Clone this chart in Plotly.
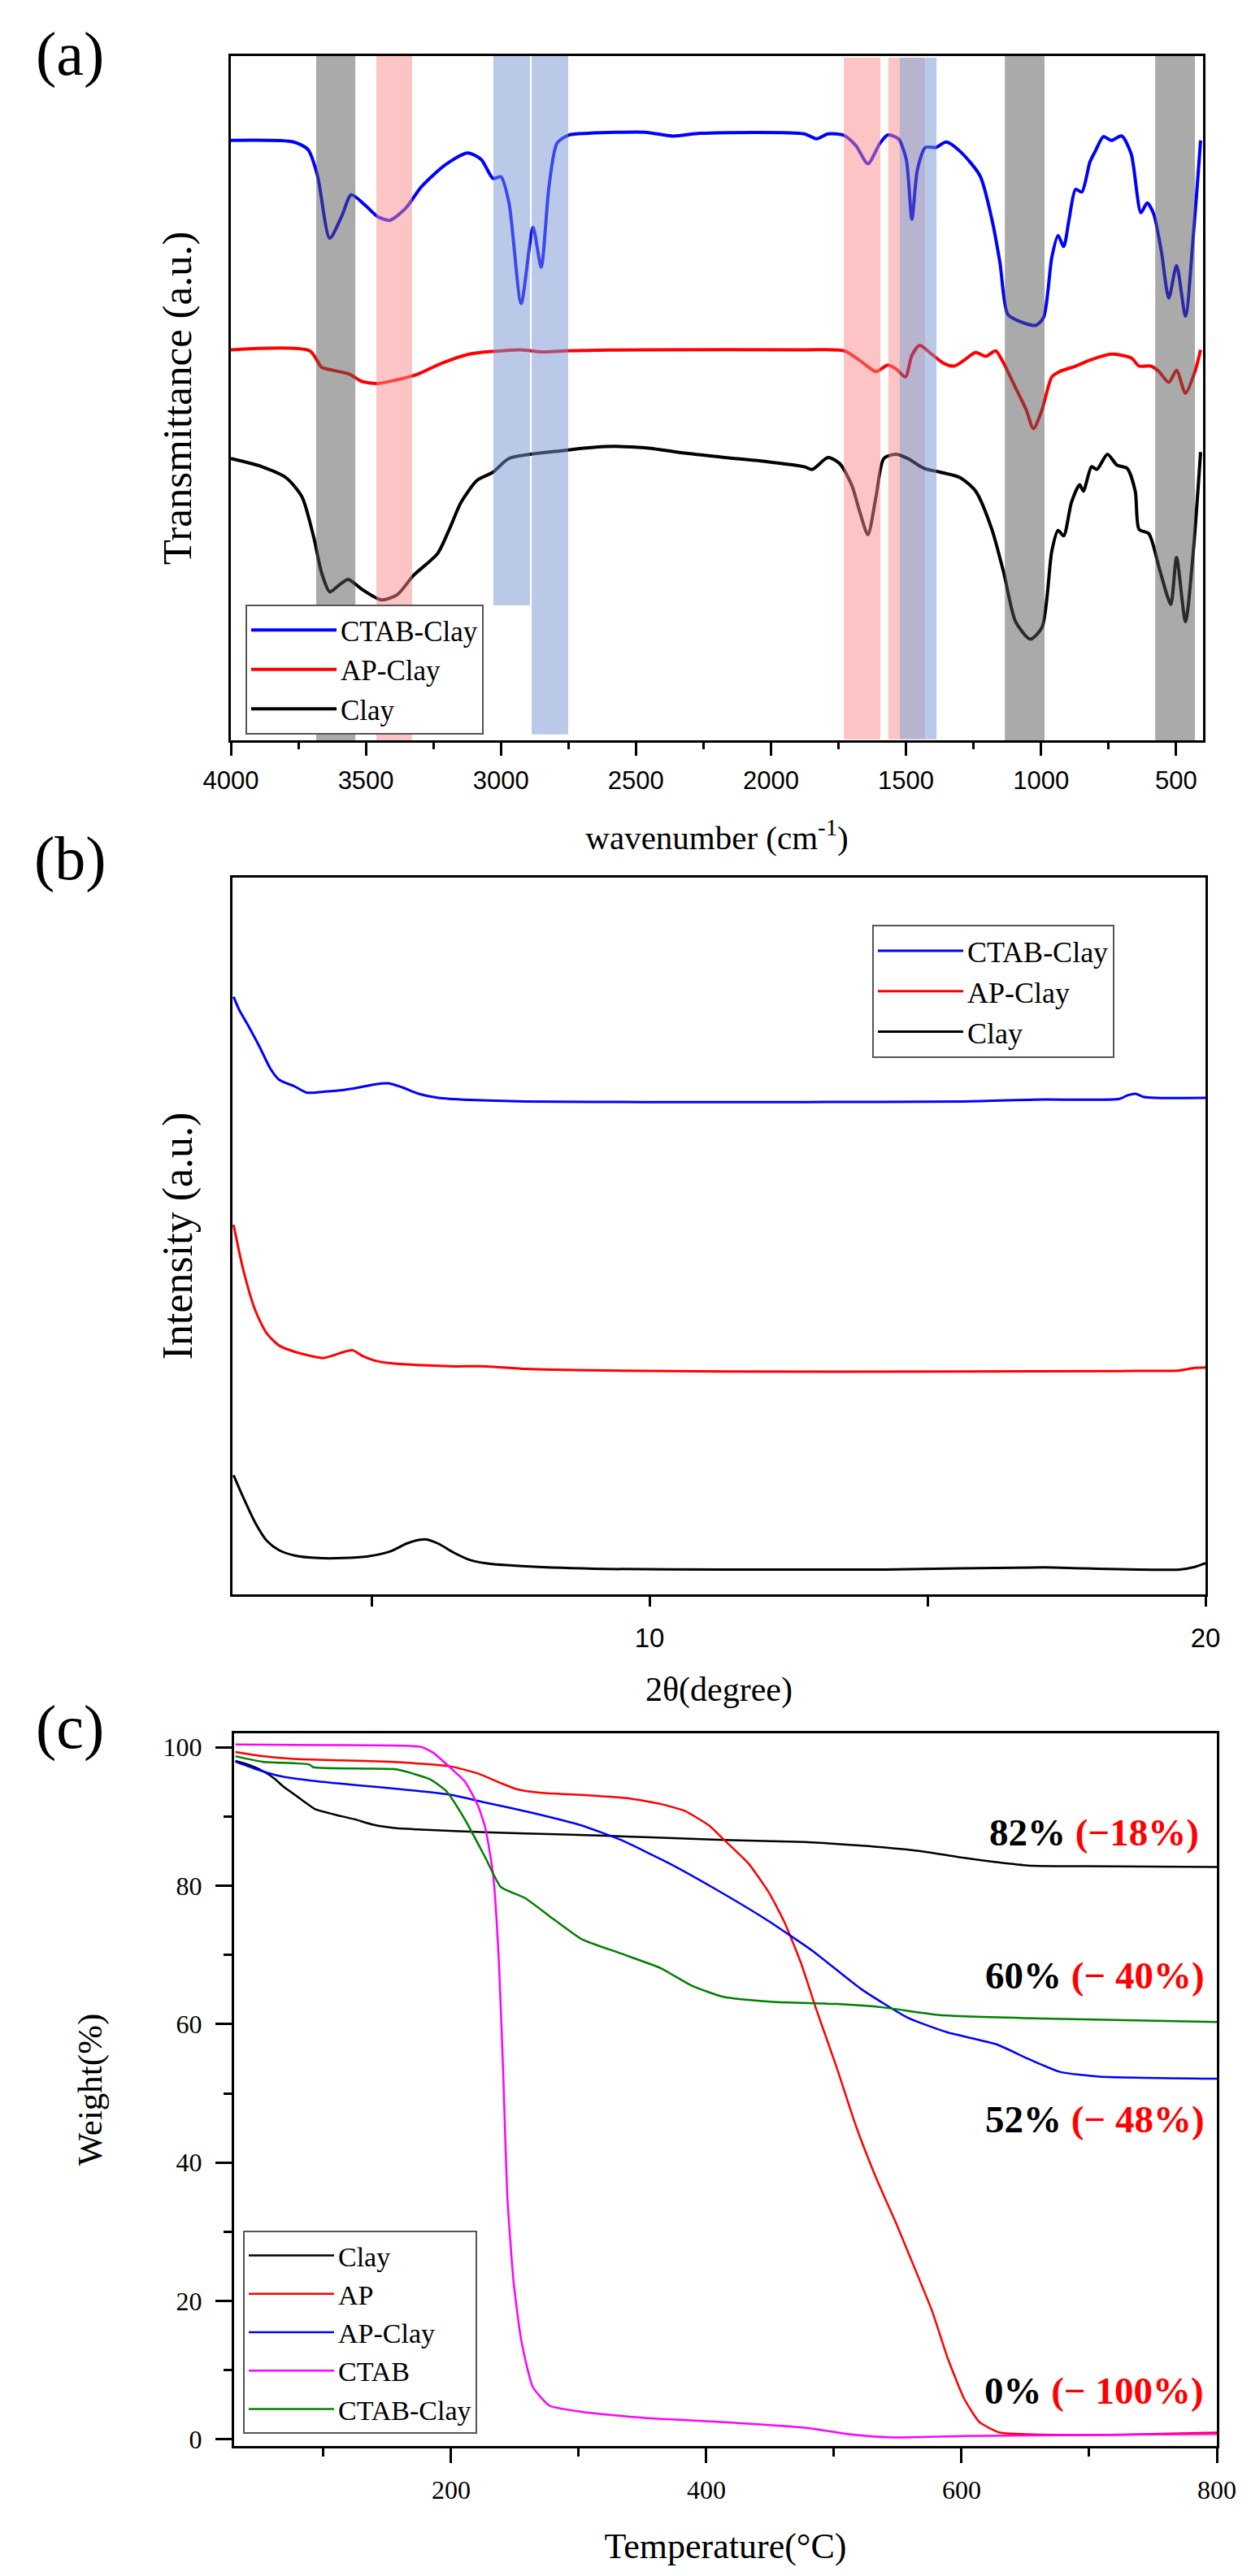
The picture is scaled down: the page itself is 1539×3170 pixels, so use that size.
import plotly.graph_objects as go

# ---------------- Panel (a): FTIR ----------------
ftir_ctab_w = [4000,3767,3714,3679,3634,3590,3554,3501,3457,3412,3353,3294,3206,3123,3073,3029,3000,2970,2925,2881,2851,2822,2792,2748,2674,2467,2364,2261,1877,1832,1788,1729,1685,1641,1596,1567,1528,1499,1478,1458,1428,1389,1351,1300,1226,1182,1152,1123,1078,1019,990,960,937,916,896,872,849,819,799,769,740,701,666,630,607,583,554,527,498,465,436,409]
ftir_ctab_t = [110.3,110.0,108.6,103.8,92.3,96.3,100.3,98.3,96.3,95.6,97.8,101.8,105.8,108.0,106.8,103.3,103.6,98.8,80.3,94.3,87.0,101.8,109.8,111.3,111.6,111.8,111.1,111.6,111.5,110.6,111.5,111.2,109.3,106.0,109.8,111.3,110.6,106.8,95.8,104.8,109.0,109.0,110.0,108.3,103.8,95.8,87.8,78.3,77.0,76.3,77.8,88.8,92.8,90.8,95.8,101.3,100.8,106.3,108.3,111.0,110.3,111.1,107.8,97.0,98.8,96.8,89.8,81.3,87.3,78.0,92.8,110.3]

ftir_ap_w = [4000,3708,3664,3619,3560,3516,3457,3383,3309,3220,3117,3029,2925,2851,2763,2467,1877,1729,1670,1611,1567,1537,1502,1478,1449,1405,1360,1322,1287,1242,1204,1168,1138,1094,1055,1028,996,960,931,872,813,740,666,637,593,563,527,498,465,430,409]
ftir_ap_t = [71.8,71.6,68.6,68.0,67.3,66.0,65.6,66.3,67.3,69.3,71.0,71.5,71.8,71.4,71.6,71.8,71.8,71.6,69.8,67.8,69.0,68.3,66.8,70.8,72.6,71.0,69.3,68.8,69.8,71.3,70.6,71.6,69.3,64.8,60.8,57.3,60.8,66.8,67.8,68.8,70.0,71.0,70.3,68.8,68.8,67.8,65.8,68.0,63.8,67.8,71.8]

ftir_clay_w = [4000,3885,3796,3737,3693,3664,3634,3605,3566,3516,3442,3383,3324,3235,3191,3147,3088,3029,2970,2763,2615,2467,2320,2172,2024,1877,1847,1788,1744,1700,1670,1641,1611,1582,1537,1493,1433,1374,1300,1242,1182,1138,1094,1040,996,960,937,916,887,857,843,813,793,754,719,681,651,637,601,563,534,519,498,465,436,409]
ftir_clay_t = [51.8,50.3,48.3,44.8,37.3,30.8,27.3,28.3,29.6,27.8,25.8,26.8,30.3,34.3,38.8,43.8,47.8,49.3,51.8,53.3,54.0,53.8,52.8,52.0,51.3,50.3,49.8,52.0,50.8,46.8,41.8,37.8,44.8,51.8,52.6,51.8,50.0,49.3,48.3,45.8,38.8,30.8,21.8,18.6,20.8,34.8,38.6,37.6,43.8,47.0,45.8,50.3,49.8,52.6,50.6,50.0,45.8,38.8,38.0,31.8,26.8,25.0,33.6,21.8,34.8,53.0]

# highlighted bands (wavenumber from, to, y-bottom, y-top, kind)
band_from = [3684, 3461, 3028, 2886, 1730, 1565, 1523, 1429, 1134, 577]
band_to   = [3539, 3329, 2892, 2751, 1595, 1523, 1429, 1387, 987, 430]
band_ylo  = [0, 0, 24.8, 1.1, 0.2, 0.2, 0.2, 0.2, 0, 0]
band_yhi  = [125.8, 125.8, 126.2, 126.2, 125.5, 125.5, 125.5, 125.5, 125.8, 125.8]
band_kind = ["gray", "pink", "blue", "blue", "pink", "pink", "purple", "blue", "gray", "gray"]

# ---------------- Panel (b): XRD ----------------
xrd_ctab_x = [2.52,2.62,2.77,2.98,3.19,3.34,3.62,3.84,4.13,4.48,4.77,5.06,5.32,5.56,5.85,6.20,6.78,7.78,9.93,12.79,15.66,17.09,18.45,18.60,18.74,18.88,19.10,20.0]
xrd_ctab_y = [115.3,112.8,110.0,105.8,101.3,99.3,98.0,96.8,97.0,97.3,97.8,98.4,98.6,97.8,96.6,95.8,95.4,95.1,95.0,95.0,95.1,95.5,95.6,96.3,96.6,96.0,95.8,95.8]

xrd_ap_x = [2.52,2.69,2.91,3.12,3.34,3.62,3.91,4.13,4.34,4.51,4.66,4.84,5.06,5.34,5.92,6.49,7.06,7.78,9.21,11.36,15.66,18.52,19.53,19.81,20.0]
xrd_ap_y = [71.3,62.8,54.8,50.3,48.0,46.8,46.0,45.6,46.2,46.8,47.1,46.0,45.1,44.6,44.2,44.0,44.0,43.5,43.2,43.0,43.0,43.1,43.2,43.7,43.8]

xrd_clay_x = [2.52,2.69,2.91,3.12,3.34,3.62,4.05,4.48,4.91,5.34,5.63,5.85,5.99,6.20,6.49,6.78,7.06,7.78,9.21,11.36,14.23,17.09,17.81,19.53,19.81,20.0]
xrd_clay_y = [23.0,18.8,13.8,10.3,8.5,7.5,7.0,7.0,7.3,8.3,9.8,10.5,10.6,9.8,8.0,6.6,6.0,5.4,4.9,4.8,4.8,5.2,5.0,4.8,5.3,6.0]

# ---------------- Panel (c): TGA ----------------
tga_clay_T = [31,39,52,62,68,80,94,108,124,139,157,177,227,289,352,414,477,527,571,602,627,652,696,800]
tga_clay_W = [98.0,97.6,96.6,95.4,94.4,92.8,91.0,90.3,89.6,88.8,88.3,88.1,87.7,87.4,87.0,86.6,86.3,85.7,84.9,84.0,83.4,82.9,82.8,82.7]

tga_ap_T = [31,52,77,114,152,177,200,221,239,252,271,302,339,364,383,402,414,433,449,461,474,486,502,517,533,549,564,577,589,602,614,630,664,727,800]
tga_ap_W = [99.3,98.7,98.3,98.1,97.9,97.6,97.2,96.2,94.8,93.9,93.4,93.1,92.6,91.8,90.8,88.7,86.6,83.2,79.0,74.8,68.9,62.2,53.8,45.4,37.8,31.1,24.4,18.5,11.8,5.9,2.5,1.0,0.7,0.7,1.0]

tga_apclay_T = [31,46,64,89,127,157,200,227,264,302,333,371,408,446,483,521,558,589,627,652,677,708,800]
tga_apclay_W = [97.9,96.9,95.9,95.2,94.5,94.0,93.1,92.0,90.5,88.7,86.6,83.2,79.4,75.2,70.6,65.1,60.9,58.8,57.1,55.0,53.1,52.4,52.1]

tga_ctab_T = [31,102,164,177,186,199,211,221,227,233,237.5,241,244,249,255,264,277,302,352,414,477,514,546,602,800]
tga_ctab_W = [100.4,100.3,100.2,100.0,99.2,97.1,95.0,91.6,88.2,81.5,68.9,52.1,35.3,22.7,14.3,7.6,4.9,4.0,3.1,2.5,1.7,0.7,0.3,0.5,0.8]

tga_ctabclay_T = [31,52,89,92,133,157,183,196,211,227,239,258,277,302,333,364,389,414,452,502,539,583,664,800]
tga_ctabclay_W = [98.7,97.9,97.5,97.1,96.9,96.8,95.4,93.7,89.5,84.0,79.8,78.2,75.6,72.3,70.2,68.1,65.5,63.9,63.2,62.9,62.4,61.3,60.8,60.3]

tga_label_T = [787, 792, 792, 791]
tga_label_W = [87.7, 67.0, 46.2, 7.0]
tga_label_rest = ["82%", "60%", "52%", "0%"]
tga_label_loss = ["(\u221218%)", "(\u2212 40%)", "(\u2212 48%)", "(\u2212 100%)"]

SERIF = "Liberation Serif, Times New Roman, serif"
SANS = "Liberation Sans, Arial, sans-serif"
NARROW = "Liberation Sans Narrow, Liberation Sans, Arial, sans-serif"

W, H = 1539, 3170
def px_x(p):
    return p / W
def px_y(p):
    return 1 - p / H

fig = go.Figure()

# panel a traces
for name, xs, ys, col in [("CTAB-Clay", ftir_ctab_w, ftir_ctab_t, "#0000ff"),
                          ("AP-Clay", ftir_ap_w, ftir_ap_t, "#ff0000"),
                          ("Clay", ftir_clay_w, ftir_clay_t, "#000000")]:
    fig.add_trace(go.Scatter(x=xs, y=ys, mode="lines", name=name,
                             line=dict(color=col, width=4, shape="spline", smoothing=0.7),
                             xaxis="x", yaxis="y", legend="legend"))

# panel b traces
for name, xs, ys, col in [("CTAB-Clay", xrd_ctab_x, xrd_ctab_y, "#0000ff"),
                          ("AP-Clay", xrd_ap_x, xrd_ap_y, "#ff0000"),
                          ("Clay", xrd_clay_x, xrd_clay_y, "#000000")]:
    fig.add_trace(go.Scatter(x=xs, y=ys, mode="lines", name=name,
                             line=dict(color=col, width=3, shape="spline", smoothing=0.7),
                             xaxis="x2", yaxis="y2", legend="legend2"))

# panel c traces
for name, xs, ys, col in [("Clay", tga_clay_T, tga_clay_W, "#000000"),
                          ("AP", tga_ap_T, tga_ap_W, "#ff0000"),
                          ("AP-Clay", tga_apclay_T, tga_apclay_W, "#0000ff"),
                          ("CTAB", tga_ctab_T, tga_ctab_W, "#ff00ff"),
                          ("CTAB-Clay", tga_ctabclay_T, tga_ctabclay_W, "#008000")]:
    fig.add_trace(go.Scatter(x=xs, y=ys, mode="lines", name=name,
                             line=dict(color=col, width=2.5, shape="spline", smoothing=0.5),
                             xaxis="x3", yaxis="y3", legend="legend3"))

band_colors = {"gray": "rgb(85,85,85)", "pink": "rgb(249,137,137)",
               "blue": "rgb(117,147,209)", "purple": "rgb(113,105,161)"}
shapes = []
for x0, x1, y0, y1, k in zip(band_from, band_to, band_ylo, band_yhi, band_kind):
    shapes.append(dict(type="rect", xref="x", yref="y", x0=x0, x1=x1, y0=y0, y1=y1,
                       fillcolor=band_colors[k], opacity=0.5, line=dict(width=0), layer="above"))

annotations = []
for lab, yp in [("(a)", 59), ("(b)", 1048), ("(c)", 2117)]:
    annotations.append(dict(text=lab, xref="paper", yref="paper", x=px_x(78), y=px_y(yp),
                            xanchor="center", yanchor="middle", showarrow=False,
                            font=dict(family=SERIF, size=76, color="black")))
for t, w_, a, b in zip(tga_label_T, tga_label_W, tga_label_rest, tga_label_loss):
    annotations.append(dict(text=f"<b>{a} <span style='color:#ff0000'>{b}</span></b>",
                            xref="x3", yref="y3", x=t, y=w_, xanchor="right", yanchor="middle",
                            showarrow=False, font=dict(family=SERIF, size=47, color="black")))

axis_common = dict(showline=True, linewidth=3, linecolor="black", mirror=True,
                   showgrid=False, zeroline=False, automargin=False)

fig.update_layout(
    width=W, height=H, margin=dict(l=0, r=0, t=0, b=0, autoexpand=False),
    paper_bgcolor="white", plot_bgcolor="white", showlegend=True,
    font=dict(family=SERIF, color="black"),
    xaxis=dict(axis_common, domain=[px_x(276), px_x(1472)], anchor="y", range=[4000, 400],
               ticks="outside", ticklen=16, tickwidth=3, tickcolor="black", dtick=500, tick0=0,
               minor=dict(ticks="outside", ticklen=8, tickwidth=3, tickcolor="black", dtick=250, tick0=0),
               tickfont=dict(family=SANS, size=31), ticklabelstandoff=4,
               title=dict(text="wavenumber (cm<sup>-1</sup>)", font=dict(family=SERIF, size=41), standoff=40)),
    yaxis=dict(axis_common, domain=[px_y(903), px_y(61)], anchor="x", range=[0, 125.8],
               showticklabels=False, ticks="",
               title=dict(text="Transmittance (a.u.)", font=dict(family=SERIF, size=51), standoff=30)),
    xaxis2=dict(axis_common, domain=[px_x(278), px_x(1475)], anchor="y2", range=[2.5, 20],
                ticks="outside", ticklen=12, tickwidth=3, tickcolor="black", dtick=10, tick0=0,
                minor=dict(ticks="outside", ticklen=12, tickwidth=3, tickcolor="black", dtick=5, tick0=0),
                tickfont=dict(family=NARROW, size=33), ticklabelstandoff=10,
                title=dict(text="2\u03b8(degree)", font=dict(family=SERIF, size=42), standoff=31)),
    yaxis2=dict(axis_common, domain=[px_y(1954), px_y(1072)], anchor="x2", range=[0, 138.3],
                showticklabels=False, ticks="",
                title=dict(text="Intensity (a.u.)", font=dict(family=SERIF, size=52), standoff=30)),
    xaxis3=dict(axis_common, domain=[px_x(280), px_x(1489)], anchor="y3", range=[30, 800],
                ticks="outside", ticklen=18, tickwidth=3, tickcolor="black", dtick=200, tick0=0,
                minor=dict(ticks="outside", ticklen=10, tickwidth=3, tickcolor="black", dtick=100, tick0=0),
                tickfont=dict(family=SERIF, size=32), ticklabelstandoff=6,
                title=dict(text="Temperature(\u00b0C)", font=dict(family=SERIF, size=44), standoff=36)),
    yaxis3=dict(axis_common, domain=[px_y(3002), px_y(2125)], anchor="x3", range=[-0.94, 102.0],
                ticks="outside", ticklen=20, tickwidth=3, tickcolor="black", dtick=20, tick0=0,
                minor=dict(ticks="outside", ticklen=10, tickwidth=3, tickcolor="black", dtick=10, tick0=0),
                tickfont=dict(family=SERIF, size=32), ticklabelstandoff=10,
                title=dict(text="Weight(%)", font=dict(family=SERIF, size=43), standoff=62)),
    legend=dict(x=px_x(294), y=px_y(896), xanchor="left", yanchor="bottom",
                bgcolor="white", bordercolor="#555555", borderwidth=2,
                font=dict(family=SERIF, size=35), itemwidth=105),
    legend2=dict(x=px_x(1065), y=px_y(1130), xanchor="left", yanchor="top",
                 bgcolor="white", bordercolor="#555555", borderwidth=2,
                 font=dict(family=SERIF, size=36), itemwidth=105),
    legend3=dict(x=px_x(291), y=px_y(2987), xanchor="left", yanchor="bottom",
                 bgcolor="white", bordercolor="#555555", borderwidth=2,
                 font=dict(family=SERIF, size=34), itemwidth=105),
    shapes=shapes, annotations=annotations,
)

fig.write_html("out.html")
